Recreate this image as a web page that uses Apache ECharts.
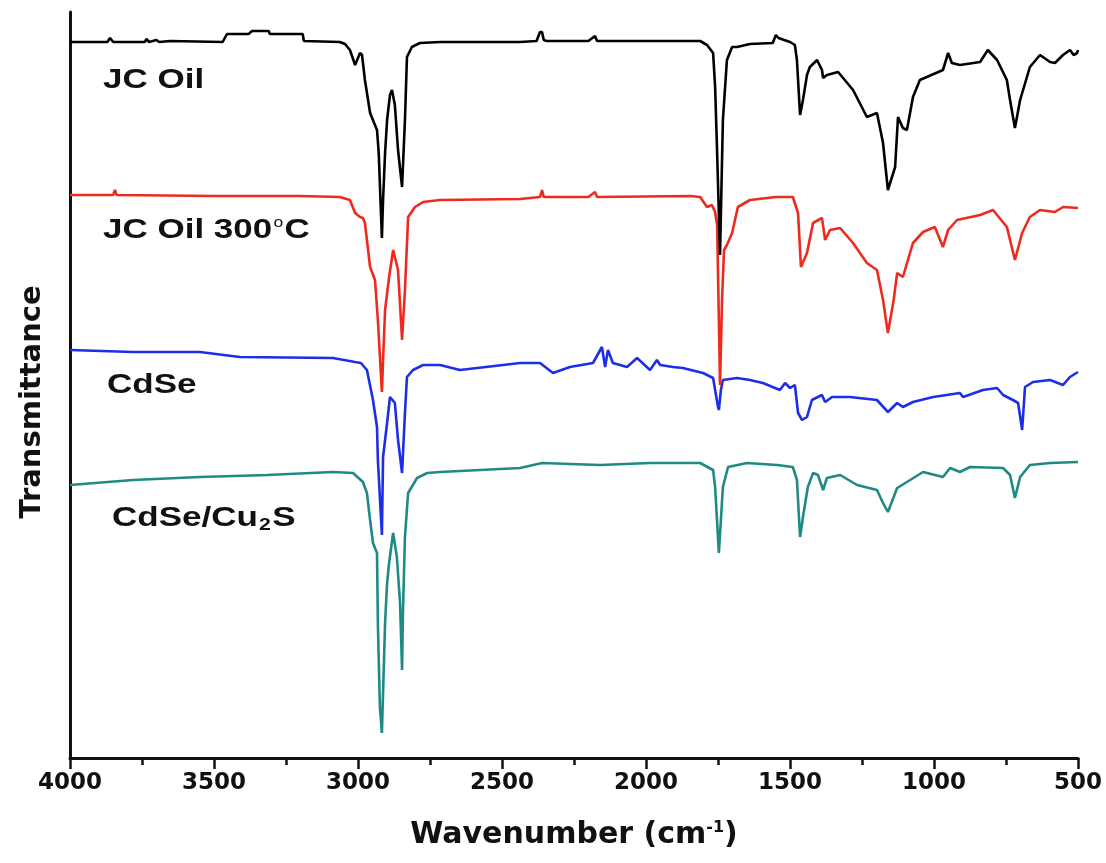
<!DOCTYPE html>
<html>
<head>
<meta charset="utf-8">
<script src="https://cdn.jsdelivr.net/npm/echarts@6/dist/echarts.min.js"></script>
<style>
html,body{margin:0;padding:0;background:#fff;}
#chart{width:1106px;height:863px;}
</style>
</head>
<body>
<div id="chart"></div>
<script>
// Wavenumber (cm-1) and offset transmittance (arbitrary units)
const jcOil = [
[4000,716],[3870,716],[3861,720],[3850,716],[3740,716],[3735,719],[3725,716],[3700,718],[3690,716],[3653,717],
[3470,716],[3455,724],[3380,724],[3368,727],[3310,727],[3306,724],[3192,724],[3188,717],[3063,716],[3045,714],
[3028,708],[3010,693],[3003,698],[2993,705],[2986,703],[2976,678],[2958,645],[2941,633],[2934,628],[2928,605],
[2917,520],[2913,558],[2906,605],[2899,638],[2889,663],[2882,668],[2872,653],[2861,608],[2847,571],[2837,638],
[2830,701],[2813,711],[2785,715],[2715,716],[2437,716],[2380,717],[2368,726],[2361,726],[2355,718],[2345,717],
[2200,717],[2177,722],[2170,717],[1812,717],[1788,713],[1767,705],[1760,671],[1753,605],[1743,503],[1733,638],
[1719,698],[1701,711],[1684,711],[1639,714],[1560,715],[1549,723],[1540,720],[1500,716],[1483,713],[1476,698],
[1465,643],[1455,658],[1441,683],[1431,691],[1406,698],[1389,688],[1385,680],[1372,683],[1333,686],[1281,668],
[1233,641],[1198,645],[1177,615],[1160,568],[1135,591],[1125,641],[1108,630],[1094,628],[1073,661],[1049,678],
[969,688],[951,705],[938,695],[910,693],[840,696],[813,708],[781,698],[747,678],[736,658],[719,630],
[701,658],[667,691],[632,703],[597,696],[580,695],[552,703],[528,708],[515,703],[503,705],[500,708]
];
const jcOil300 = [
[4000,563],[3850,563],[3844,568],[3838,563],[3500,562],[3201,562],[3063,561],[3028,558],[3010,545],[2993,541],
[2983,540],[2976,535],[2958,491],[2941,478],[2931,438],[2917,366],[2913,398],[2906,448],[2892,481],[2878,508],
[2861,488],[2847,418],[2837,468],[2826,541],[2802,551],[2774,556],[2715,558],[2437,559],[2368,561],[2361,568],
[2355,561],[2200,561],[2177,566],[2170,561],[1847,562],[1812,561],[1788,551],[1771,553],[1760,546],[1753,533],
[1747,438],[1743,373],[1736,458],[1729,508],[1719,513],[1701,525],[1681,551],[1639,558],[1549,561],[1490,561],
[1472,545],[1462,491],[1441,505],[1420,535],[1389,540],[1378,518],[1361,528],[1326,530],[1281,515],[1233,495],
[1198,488],[1177,458],[1160,425],[1140,458],[1128,485],[1108,481],[1073,515],[1038,526],[997,531],[969,511],
[951,528],[920,538],[840,543],[795,548],[747,531],[719,498],[694,525],[667,541],[632,548],[580,546],
[552,551],[500,550]
];
const cdse = [
[4000,408],[3781,406],[3549,406],[3410,401],[3087,400],[3010,396],[2990,395],[2969,388],[2948,358],[2934,331],
[2931,298],[2917,223],[2913,301],[2899,335],[2889,361],[2872,355],[2861,318],[2847,285],[2837,345],[2830,381],
[2809,388],[2774,393],[2715,393],[2646,388],[2437,395],[2368,395],[2323,385],[2264,391],[2184,395],[2153,411],
[2142,391],[2132,408],[2115,395],[2066,391],[2031,400],[1986,388],[1962,398],[1951,393],[1906,391],[1872,390],
[1802,385],[1767,380],[1750,351],[1747,348],[1740,368],[1733,378],[1684,380],[1639,378],[1594,375],[1535,368],
[1517,375],[1500,370],[1483,373],[1472,345],[1458,338],[1441,341],[1424,358],[1389,363],[1378,356],[1354,361],
[1292,361],[1198,358],[1160,346],[1128,355],[1108,351],[1073,356],[1003,361],[910,365],[899,361],[830,368],
[781,370],[760,363],[726,358],[708,355],[694,328],[684,371],[656,376],[597,378],[552,373],[528,381],[500,386]
];
const cdseCu2S = [
[4000,273],[3781,278],[3549,281],[3316,283],[3087,286],[3017,285],[2983,276],[2969,265],[2958,238],[2948,215],
[2934,205],[2931,135],[2924,51],[2917,25],[2906,135],[2899,175],[2892,195],[2878,225],[2865,201],[2854,155],
[2847,88],[2844,145],[2837,221],[2826,265],[2795,280],[2760,285],[2715,286],[2437,290],[2361,295],[2160,293],
[1986,295],[1812,295],[1767,288],[1760,271],[1747,205],[1733,271],[1715,291],[1649,295],[1545,293],[1490,291],
[1476,278],[1465,221],[1455,241],[1438,271],[1420,285],[1403,283],[1385,268],[1372,280],[1326,283],[1267,273],
[1198,268],[1177,255],[1160,246],[1128,270],[1094,276],[1038,286],[969,281],[944,290],[910,286],[875,291],
[760,290],[736,283],[719,260],[701,281],[667,293],[597,295],[500,296]
];
const seriesNames = ['JC Oil', 'JC Oil 300°C', 'CdSe', 'CdSe/Cu2S'];
const seriesColors = ['#000000', '#ee2a1f', '#1e2ee6', '#1f8a84'];

const chart = echarts.init(document.getElementById('chart'), null, {renderer: 'canvas'});
const FF = 'Liberation Sans, Arial, sans-serif';
const WF = 'DejaVu Sans, Verdana, sans-serif';
const lblStyle = {fontFamily: FF, fontWeight: 'bold', fontSize: 28, fill: '#111', textVerticalAlign: 'middle'};
function label(x, y, text, rich) {
  const st = Object.assign({text: text, x: 0, y: 0}, lblStyle);
  if (rich) st.rich = rich;
  return {type: 'text', x: x, y: y, scaleX: 1.25, scaleY: 1, style: st, z: 20};
}
const supRich = {s: {fontFamily: FF, fontSize: 14, fill: '#111', verticalAlign: 'top', padding: [0, 1, 14, 1]}};
const subRich = {s: {fontFamily: FF, fontWeight: 'bold', fontSize: 17, fill: '#111', verticalAlign: 'bottom', padding: [14, 1, 0, 1]}};
const datasets = [jcOil, jcOil300, cdse, cdseCu2S];
chart.setOption({
  backgroundColor: '#fff',
  animation: false,
  grid: {left: 70, right: 28, top: 12, bottom: 105},
  xAxis: {
    type: 'value', min: 500, max: 4000, interval: 500, inverse: true,
    name: '{a|Wavenumber (cm}{s|-1}{a|)}',
    nameLocation: 'middle', nameGap: 62,
    nameTextStyle: {
      rich: {
        a: {fontFamily: WF, fontWeight: 'bold', fontSize: 30, color: '#111'},
        s: {fontFamily: WF, fontWeight: 'bold', fontSize: 16, color: '#111', verticalAlign: 'top', padding: [0, 0, 14, 0]}
      }
    },
    axisLine: {show: true, lineStyle: {color: '#111', width: 3}},
    axisTick: {show: true, inside: false, length: 11, lineStyle: {color: '#111', width: 2.5}},
    minorTick: {show: true, splitNumber: 2, length: 7, lineStyle: {color: '#111', width: 2.5}},
    axisLabel: {fontFamily: WF, fontWeight: 'bold', fontSize: 23, color: '#111', margin: 14,
      formatter: v => String(v)},
    splitLine: {show: false}
  },
  yAxis: {
    type: 'value', min: 0, max: 746,
    axisLine: {show: true, lineStyle: {color: '#111', width: 3}},
    axisTick: {show: false}, axisLabel: {show: false}, splitLine: {show: false}
  },
  series: datasets.map((d, i) => ({
    name: seriesNames[i], type: 'line', data: d, showSymbol: false,
    lineStyle: {color: seriesColors[i], width: 2.6}, z: 10 - i
  })),
  graphic: [
    {type: 'text', x: 32, y: 402, rotation: Math.PI / 2, z: 20,
      style: {text: 'Transmittance', x: 0, y: 0, fontFamily: WF, fontWeight: 'bold', fontSize: 29, fill: '#111',
        textAlign: 'center', textVerticalAlign: 'middle'}},
    label(103, 80, 'JC Oil'),
    label(103, 230, 'JC Oil 300{s|o}C', supRich),
    label(107, 385, 'CdSe'),
    label(112, 518, 'CdSe/Cu{s|2}S', subRich)
  ]
});
</script>
</body>
</html>
